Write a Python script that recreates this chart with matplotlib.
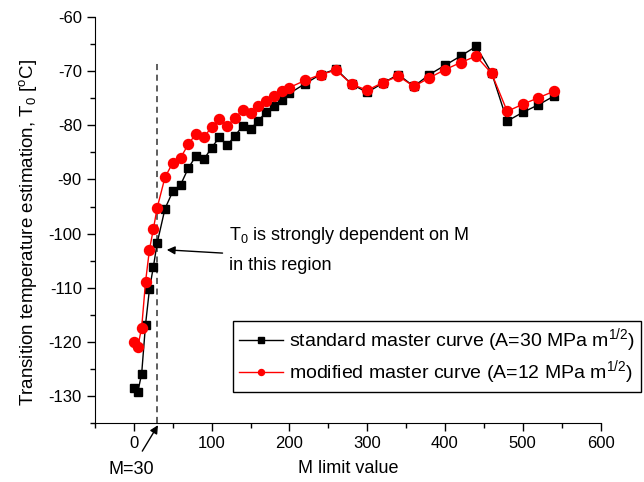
import matplotlib
matplotlib.use("Agg")
import matplotlib.pyplot as plt
from matplotlib.ticker import MultipleLocator

plt.rcParams["font.family"] = ["Liberation Sans", "DejaVu Sans"]
plt.rcParams["mathtext.fontset"] = "custom"
plt.rcParams["mathtext.rm"] = "Liberation Sans"
plt.rcParams["mathtext.it"] = "Liberation Sans:italic"
plt.rcParams["axes.unicode_minus"] = False

# M limit values
m_limit = [0, 5, 10, 15, 20, 25, 30, 40, 50, 60, 70, 80, 90, 100, 110, 120,
           130, 140, 150, 160, 170, 180, 190, 200, 220, 240, 260, 280, 300,
           320, 340, 360, 380, 400, 420, 440, 460, 480, 500, 520, 540]

# T0 estimates, standard master curve (A=30)
t0_standard = [-128.5, -129.3, -125.9, -116.8, -110.3, -106.2, -101.7, -95.4,
               -92.2, -91.0, -87.9, -85.6, -86.3, -84.1, -82.2, -83.7, -81.9,
               -80.1, -80.7, -79.1, -77.6, -76.5, -75.3, -74.1, -72.3, -70.6,
               -69.6, -72.4, -73.9, -72.2, -70.6, -72.8, -70.6, -68.9, -67.2,
               -65.4, -70.3, -79.2, -77.6, -76.2, -74.6]

# T0 estimates, modified master curve (A=12)
t0_modified = [-120.0, -120.9, -117.4, -108.9, -103.0, -99.2, -95.2, -89.6,
               -86.9, -86.0, -83.5, -81.5, -82.2, -80.3, -78.8, -80.1, -78.6,
               -77.2, -77.7, -76.5, -75.5, -74.5, -73.7, -73.0, -71.7, -70.6,
               -69.8, -72.4, -73.5, -72.1, -70.9, -72.8, -71.2, -69.7, -68.4,
               -67.2, -70.4, -77.4, -76.1, -74.9, -73.7]

m_cut = 30

fig = plt.figure(figsize=(6.44, 4.82), dpi=100)
ax = fig.add_axes([0.1475, 0.1224, 0.785, 0.842])

ax.plot(m_limit, t0_standard, color="black", lw=1.0, marker="s", ms=6.2,
        mec="black", mfc="black",
        label="standard master curve (A=30 MPa m$^{1/2}$)", zorder=3)
ax.plot(m_limit, t0_modified, color="red", lw=1.0, marker="o", ms=7.2,
        mec="red", mfc="red",
        label="modified master curve (A=12 MPa m$^{1/2}$)", zorder=4)

# M=30 marker line
ax.plot([m_cut, m_cut], [-135, -68.3], color="#333333", lw=1.1,
        ls=(0, (4, 3)), zorder=2)

ax.set_xlim(-50, 600)
ax.set_ylim(-135, -60)
ax.xaxis.set_major_locator(MultipleLocator(100))
ax.xaxis.set_minor_locator(MultipleLocator(50))
ax.yaxis.set_major_locator(MultipleLocator(10))
ax.yaxis.set_minor_locator(MultipleLocator(5))
ax.spines["top"].set_visible(False)
ax.spines["right"].set_visible(False)
ax.tick_params(which="major", direction="out", length=6, width=1.0,
               labelsize=12)
ax.tick_params(which="minor", direction="out", length=3.5, width=1.0)

ax.set_xlabel("M limit value", fontsize=13, labelpad=6)
ax.set_ylabel("Transition temperature estimation, T$_0$ [$^{\\rm o}$C]",
              fontsize=13.5)
ax.yaxis.set_label_coords(-0.11, 0.47)

# annotations
ax.text(122, -100.4, "T$_0$ is strongly dependent on M", fontsize=13,
        va="center", ha="left")
ax.text(122, -105.9, "in this region", fontsize=13, va="center", ha="left")
ax.annotate("", xy=(42.3, -103.0), xytext=(114, -103.6),
            arrowprops=dict(arrowstyle="-|>", color="black", lw=1.0,
                            mutation_scale=12, shrinkA=0, shrinkB=0))
ax.annotate("M=30", xy=(31, -135.4), xytext=(-3.5, -143.6),
            fontsize=13, ha="center", va="center", annotation_clip=False,
            arrowprops=dict(arrowstyle="-|>", color="black", lw=1.0,
                            mutation_scale=12, shrinkA=6, shrinkB=0))

leg = ax.legend(loc="upper left", bbox_to_anchor=(232.7 / 644, 1 - 320.7 / 482),
                bbox_transform=fig.transFigure, fontsize=14, frameon=True,
                fancybox=False, edgecolor="black", framealpha=1,
                markerscale=0.6, handlelength=2.3, handletextpad=0.3,
                borderpad=0.3, labelspacing=0.2, borderaxespad=0)
leg.get_frame().set_linewidth(1.0)

fig.savefig("out.png", dpi=100)
